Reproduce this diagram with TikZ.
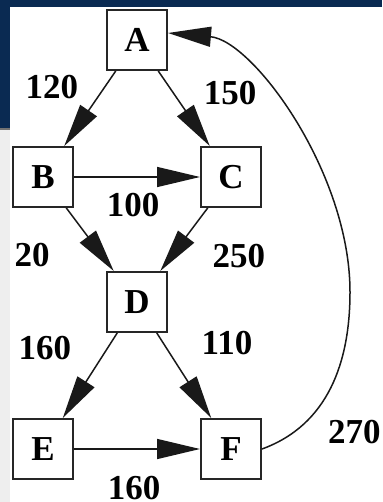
\documentclass[tikz,border=0pt]{standalone}
\usepackage{fontspec}
\setmainfont{Liberation Serif}
\usetikzlibrary{arrows.meta, positioning, matrix}
\definecolor{slidenavy}{RGB}{10,42,82}
\definecolor{slidegray}{RGB}{238,238,238}
\tikzset{
  station/.style={draw=black!85, line width=1.8pt, minimum size=60.2pt, inner sep=0pt, fill=white, font=\bfseries\fontsize{35}{35}\selectfont},
  wt/.style={font=\bfseries\fontsize{35}{35}\selectfont, inner sep=0pt, black},
  pto/.style={-{Triangle[length=43pt,width=20pt]}, line width=1.5pt, black!90}
}

\begin{document}
\begin{tikzpicture}[x=1pt, y=1pt]
    % slide background
    \useasboundingbox (0,0) rectangle (382,-502);
    \fill[white] (0,0) rectangle (382,-502);
    \fill[slidenavy] (0,0) rectangle (382,-7);
    \fill[slidenavy] (0,0) rectangle (10,-128);
    \fill[black!55] (0,-128) rectangle (10,-130);
    \fill[slidegray] (0,-130) rectangle (10,-502);

    \matrix[column sep=32pt, matrix anchor=A.center] at (137,-40)
    {
        & \node[station] (A) {A}; & \\[75pt]
        \node[station] (B) {B}; & & \node[station] (C) {C}; \\[63pt]
        & \node[station] (D) {D}; & \\[85pt]
        \node[station] (E) {E}; & & \node[station] (F) {F}; \\
    };

    \draw[pto] (A) -- node[wt, xshift=-38pt, yshift=21pt] (w_ab) {120} (B);
    \draw[pto] (A) -- node[wt, xshift=46pt, yshift=15pt] (w_ac) {150} (C);
    \draw[pto] (B) -- node[wt, xshift=-4pt, yshift=-28pt] (w_bc) {100} (C);
    \draw[pto] (B) -- node[wt, xshift=-58pt, yshift=-16pt] (w_bd) {20} (D);
    \draw[pto] (C) -- node[wt, xshift=55pt, yshift=-17pt] (w_cd) {250} (D);
    \draw[pto] (D) -- node[wt, xshift=-45pt, yshift=27pt] (w_de) {160} (E);
    \draw[pto] (D) -- node[wt, xshift=43pt, yshift=32pt] (w_df) {110} (F);
    \draw[pto] (E) -- node[wt, xshift=-3pt, yshift=-39pt] (w_ef) {160} (F);

    % back edge round the right side
    \coordinate (bend) at ([xshift=213pt, yshift=10pt]D.center);
    \draw[pto] (F.east) to[out=20, in=-90] (bend)
        to[out=90, in=-5, out distance=120pt, in distance=85pt] ([yshift=7pt]A.east);
    \node[wt, right=66pt of F, yshift=17pt] (w_fa) {270};
\end{tikzpicture}
\end{document}
